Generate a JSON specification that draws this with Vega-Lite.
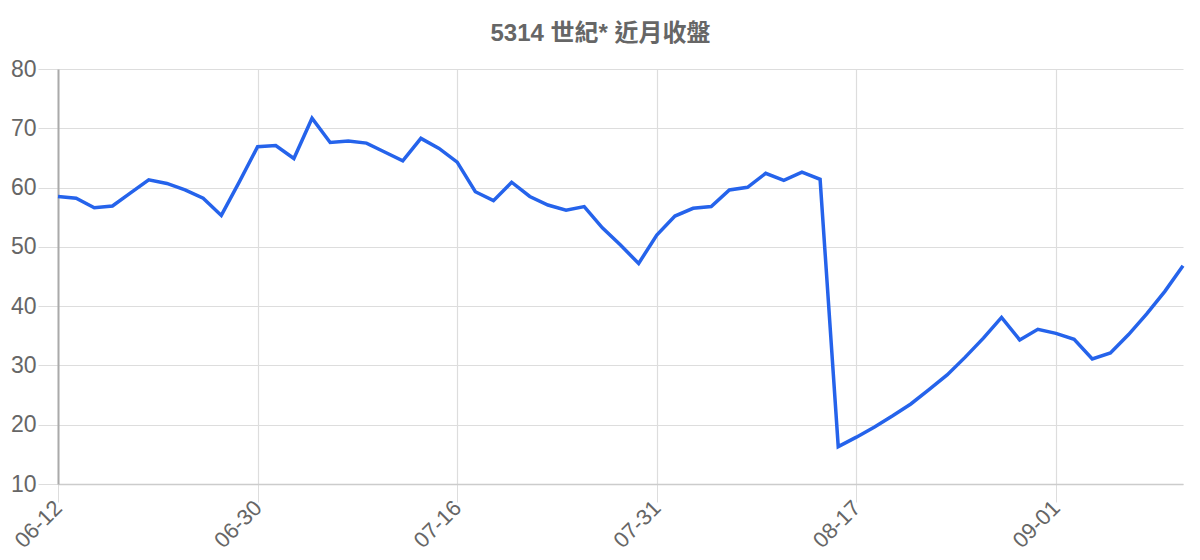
{
  "$schema": "https://vega.github.io/schema/vega-lite/v6.json",
  "autosize": {"type": "none"},
  "padding": {"left": 58, "top": 69, "right": 17, "bottom": 76},
  "width": 1125,
  "height": 415,
  "background": "white",
  "config": {
    "view": {"stroke": null},
    "font": "Liberation Sans, Noto Sans CJK TC, sans-serif"
  },
  "title": {
    "text": "5314 世紀* 近月收盤",
    "fontSize": 24,
    "fontWeight": "bold",
    "color": "#666666",
    "anchor": "middle",
    "dx": -20,
    "offset": 12,
    "font": "Liberation Sans, Noto Sans CJK TC, sans-serif"
  },
  "data": {
    "values": [
      {"date": "06-12", "close": 58.5},
      {"date": "06-13", "close": 58.2},
      {"date": "06-14", "close": 56.6},
      {"date": "06-15", "close": 56.9},
      {"date": "06-16", "close": 59.1},
      {"date": "06-19", "close": 61.3},
      {"date": "06-20", "close": 60.7},
      {"date": "06-21", "close": 59.6},
      {"date": "06-27", "close": 58.2},
      {"date": "06-28", "close": 55.3},
      {"date": "06-29", "close": 61.0},
      {"date": "06-30", "close": 66.9},
      {"date": "07-03", "close": 67.1},
      {"date": "07-04", "close": 64.9},
      {"date": "07-05", "close": 71.7},
      {"date": "07-06", "close": 67.6},
      {"date": "07-07", "close": 67.85},
      {"date": "07-10", "close": 67.5},
      {"date": "07-11", "close": 66.0},
      {"date": "07-12", "close": 64.5},
      {"date": "07-13", "close": 68.3},
      {"date": "07-14", "close": 66.6},
      {"date": "07-16", "close": 64.3},
      {"date": "07-17", "close": 59.3},
      {"date": "07-18", "close": 57.8},
      {"date": "07-19", "close": 60.9},
      {"date": "07-20", "close": 58.5},
      {"date": "07-21", "close": 57.05},
      {"date": "07-24", "close": 56.2},
      {"date": "07-25", "close": 56.8},
      {"date": "07-26", "close": 53.2},
      {"date": "07-27", "close": 50.3},
      {"date": "07-28", "close": 47.2},
      {"date": "07-31", "close": 52.0},
      {"date": "08-01", "close": 55.2},
      {"date": "08-02", "close": 56.5},
      {"date": "08-03", "close": 56.8},
      {"date": "08-04", "close": 59.6},
      {"date": "08-07", "close": 60.05},
      {"date": "08-08", "close": 62.4},
      {"date": "08-09", "close": 61.2},
      {"date": "08-10", "close": 62.6},
      {"date": "08-11", "close": 61.4},
      {"date": "08-14", "close": 16.3},
      {"date": "08-17", "close": 17.9},
      {"date": "08-18", "close": 19.6},
      {"date": "08-21", "close": 21.5},
      {"date": "08-22", "close": 23.5},
      {"date": "08-23", "close": 25.9},
      {"date": "08-24", "close": 28.4},
      {"date": "08-25", "close": 31.4},
      {"date": "08-28", "close": 34.6},
      {"date": "08-29", "close": 38.1},
      {"date": "08-30", "close": 34.3},
      {"date": "08-31", "close": 36.1},
      {"date": "09-01", "close": 35.4},
      {"date": "09-04", "close": 34.4},
      {"date": "09-05", "close": 31.1},
      {"date": "09-06", "close": 32.1},
      {"date": "09-07", "close": 35.2},
      {"date": "09-08", "close": 38.7},
      {"date": "09-11", "close": 42.5},
      {"date": "09-12", "close": 46.8}
    ]
  },
  "mark": {"type": "line", "color": "#2563EB", "strokeWidth": 3.5, "strokeJoin": "miter", "clip": false},
  "encoding": {
    "x": {
      "field": "date",
      "type": "ordinal",
      "sort": null,
      "scale": {"type": "point", "padding": 0},
      "axis": {
        "title": null,
        "values": ["06-12", "06-30", "07-16", "07-31", "08-17", "09-01"],
        "labelAngle": -45,
        "labelAlign": "right",
        "labelBaseline": "middle",
        "labelFontSize": 22,
        "labelColor": "#666666",
        "labelPadding": 2,
        "grid": true,
        "gridColor": "#dddddd",
        "gridWidth": 1.2,
        "tickColor": "#dddddd",
        "tickSize": 18,
        "domainColor": "#cccccc",
        "domainWidth": 1.5
      }
    },
    "y": {
      "field": "close",
      "type": "quantitative",
      "scale": {"domain": [10, 80], "nice": false, "zero": false},
      "axis": {
        "title": null,
        "values": [10, 20, 30, 40, 50, 60, 70, 80],
        "labelFontSize": 23,
        "labelColor": "#666666",
        "labelPadding": 2,
        "grid": true,
        "gridColor": "#dddddd",
        "gridWidth": 1.2,
        "tickColor": "#dddddd",
        "tickSize": 20,
        "domainColor": "#aaaaaa",
        "domainWidth": 2
      }
    }
  }
}
